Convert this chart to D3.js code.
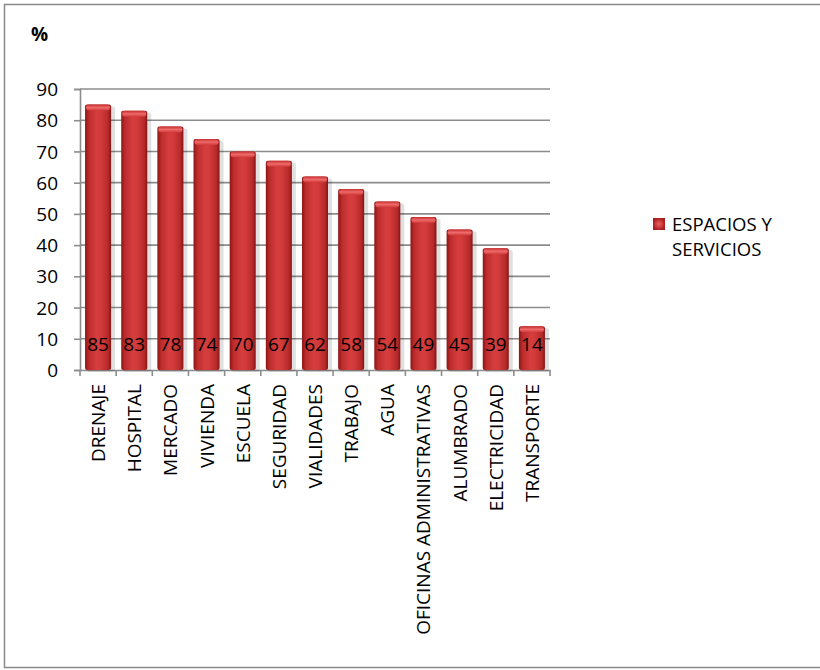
<!DOCTYPE html>
<html><head><meta charset="utf-8">
<script src="https://cdn.jsdelivr.net/npm/d3@7"></script>
<style>body{margin:0;background:#fff;} text{font-family:"Open Sans",sans-serif;}</style>
</head><body>
<svg id="c" width="820" height="670"></svg>
<script>
const categories = ["DRENAJE","HOSPITAL","MERCADO","VIVIENDA","ESCUELA","SEGURIDAD","VIALIDADES","TRABAJO","AGUA","OFICINAS ADMINISTRATIVAS","ALUMBRADO","ELECTRICIDAD","TRANSPORTE"];
const values = [85,83,78,74,70,67,62,58,54,49,45,39,14];
const yTicks = [0,10,20,30,40,50,60,70,80,90];
const seriesName = ["ESPACIOS Y","SERVICIOS"];
const unitLabel = "%";

const svg = d3.select("#c");
const defs = svg.append("defs");
const g1 = defs.append("linearGradient").attr("id","barg").attr("x1","0").attr("x2","1").attr("y1","0").attr("y2","0");
[[0,"#8e1515"],[0.15,"#bd2c2c"],[0.45,"#d63e3e"],[0.6,"#d33b3b"],[0.88,"#b72a2a"],[1,"#851313"]].forEach(s=>g1.append("stop").attr("offset",s[0]).attr("stop-color",s[1]));
const g2 = defs.append("linearGradient").attr("id","capg").attr("x1","0").attr("x2","0").attr("y1","0").attr("y2","1");
[[0,"#c42e2e"],[0.5,"#ef6a6a"],[1,"#d03a3a"]].forEach(s=>g2.append("stop").attr("offset",s[0]).attr("stop-color",s[1]));
const g3 = defs.append("radialGradient").attr("id","legg");
[[0,"#f06060"],[1,"#a82020"]].forEach(s=>g3.append("stop").attr("offset",s[0]).attr("stop-color",s[1]));

svg.append("rect").attr("x",4.5).attr("y",4.5).attr("width",840).attr("height",663)
  .attr("fill","none").attr("stroke","#8a8a8a").attr("stroke-width",1.5);

const pLeft=80, pRight=550, pTop=89, pBottom=370;
const x = d3.scaleBand().domain(categories).range([pLeft,pRight]).paddingInner(0.28).paddingOuter(0.14);
const xb = d3.scaleBand().domain(categories).range([pLeft,pRight]);
const y = d3.scaleLinear().domain([0,90]).range([pBottom,pTop]);

// gridlines
svg.append("g").selectAll("line").data(yTicks.filter(d=>d>0)).join("line")
  .attr("x1",pLeft).attr("x2",pRight).attr("y1",d=>y(d)).attr("y2",d=>y(d))
  .attr("stroke","#8c8c8c").attr("stroke-width",1.6);

// y axis
const ya = svg.append("g").attr("transform",`translate(${pLeft},0)`)
  .call(d3.axisLeft(y).tickValues(yTicks).tickSize(6).tickPadding(16));
ya.select(".domain").attr("stroke","#8c8c8c").attr("stroke-width",1.6);
ya.selectAll(".tick line").attr("stroke","#8c8c8c").attr("stroke-width",1.6);
ya.selectAll(".tick text").attr("font-size",19).attr("font-family","Open Sans").attr("fill","#000").attr("dy","0.35em");

// x axis
const xa = svg.append("g").attr("transform",`translate(0,${pBottom})`)
  .call(d3.axisBottom(xb).tickSize(0).tickFormat(""));
xa.select(".domain").attr("stroke","#8c8c8c").attr("stroke-width",1.6);
svg.append("g").selectAll("line").data(categories.concat(["__end"])).join("line")
  .attr("x1",(d,i)=>pLeft+i*xb.step()).attr("x2",(d,i)=>pLeft+i*xb.step())
  .attr("y1",pBottom).attr("y2",pBottom+6).attr("stroke","#8c8c8c").attr("stroke-width",1.6);

// bars
const bars = svg.append("g");
bars.selectAll("rect.sh").data(values).join("rect").attr("class","sh")
  .attr("x",(d,i)=>x(categories[i])+2).attr("y",d=>y(d)+2)
  .attr("width",x.bandwidth()+2).attr("height",d=>pBottom-y(d))
  .attr("fill","#000").attr("opacity",0.12).attr("rx",2);
bars.selectAll("rect.b").data(values).join("rect").attr("class","b")
  .attr("x",(d,i)=>x(categories[i])).attr("y",d=>y(d))
  .attr("width",x.bandwidth()).attr("height",d=>pBottom-y(d))
  .attr("fill","url(#barg)").attr("rx",2);
bars.selectAll("rect.cap").data(values).join("rect").attr("class","cap")
  .attr("x",(d,i)=>x(categories[i])+1).attr("y",d=>y(d))
  .attr("width",x.bandwidth()-2).attr("height",6)
  .attr("fill","url(#capg)").attr("rx",3);

// value labels
svg.append("g").selectAll("text").data(values).join("text")
  .attr("x",(d,i)=>x(categories[i])+x.bandwidth()/2).attr("y",pBottom-19)
  .attr("text-anchor","middle").attr("font-size",19).attr("fill","#000").text(d=>d);

// category labels
const catFs = 19;
svg.append("g").selectAll("text").data(categories).join("text")
  .attr("transform",d=>`translate(${xb(d)+xb.bandwidth()/2+7},384) rotate(-90)`)
  .attr("text-anchor","end").attr("font-size",catFs).attr("fill","#000").text(d=>d);

// unit label
svg.append("text").attr("x",31).attr("y",41).attr("font-size",19).attr("font-weight","bold").text(unitLabel);

// legend
svg.append("rect").attr("x",653).attr("y",218).attr("width",12).attr("height",12).attr("fill","url(#legg)");
svg.append("g").selectAll("text").data(seriesName).join("text")
  .attr("x",672).attr("y",(d,i)=>231+i*25).attr("font-size",18.5).attr("fill","#000").text(d=>d);
</script>
</body></html>
